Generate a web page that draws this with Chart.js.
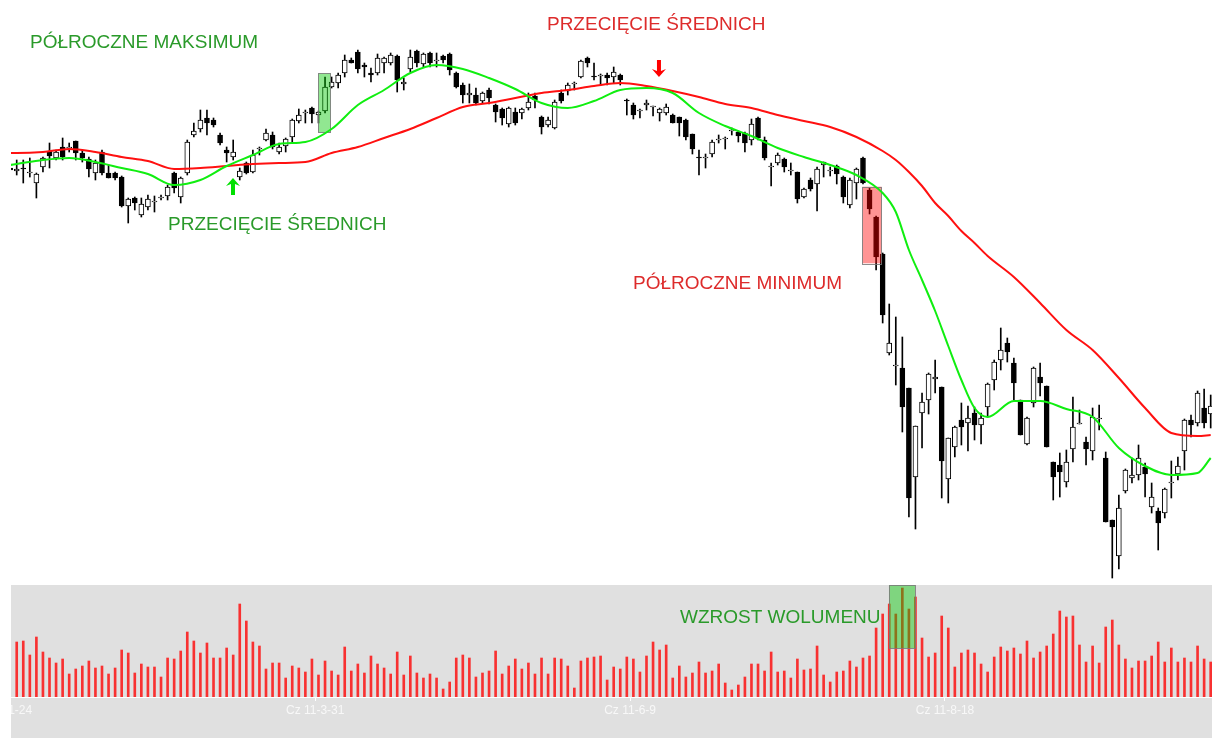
<!DOCTYPE html>
<html><head><meta charset="utf-8">
<style>
html,body{margin:0;padding:0;background:#fff;width:1212px;height:738px;overflow:hidden}
#pwrap{position:absolute;left:0;top:0;width:1212px;height:585px}
#vwrap{position:absolute;left:11px;top:585px;width:1201px;height:153px;background:#e0e0e0}
</style>
<script src="https://cdn.jsdelivr.net/npm/chart.js@4.4.0/dist/chart.umd.min.js"></script>
</head><body>
<div id="pwrap"><canvas id="price"></canvas></div>
<div id="vwrap"><canvas id="vol"></canvas></div>
<script>
// candle index of the first entry (index -1 is clipped at the left edge)
const firstIndex = -1;
const openP = [2717,2714,2717,2712,2702,2718,2734,2727,2738,2737,2744,2732,2726,2712,2733,2712,2712,2708,2679,2687,2670,2678,2683,2687,2689,2712,2688,2712,2750,2756,2767,2765,2750,2735,2728,2708,2722,2713,2736,2745,2750,2733,2739,2748,2764,2772,2777,2770,2774,2798,2802,2812,2825,2833,2820,2812,2812,2822,2822,2829,2801,2816,2834,2821,2832,2824,2829,2831,2812,2800,2790,2790,2784,2795,2780,2776,2761,2773,2772,2777,2789,2768,2760,2757,2792,2794,2801,2808,2827,2809,2809,2810,2808,2810,2785,2780,2774,2780,2778,2772,2772,2770,2768,2765,2751,2728,2727,2731,2745,2746,2754,2753,2752,2745,2767,2745,2718,2722,2726,2714,2713,2688,2705,2701,2720,2714,2719,2708,2680,2702,2727,2695,2668,2631,2532,2519,2517,2497,2408,2472,2485,2506,2498,2406,2438,2465,2462,2472,2460,2478,2505,2525,2542,2522,2485,2441,2482,2508,2499,2423,2420,2403,2436,2461,2443,2434,2466,2427,2365,2329,2394,2407,2410,2418,2378,2374,2372,2402,2411,2434,2465,2462,2477,2471];
const highP = [2733,2725,2725,2727,2712,2728,2742,2735,2747,2742,2744,2735,2728,2725,2735,2720,2713,2709,2687,2688,2687,2690,2689,2690,2700,2713,2708,2745,2762,2775,2775,2767,2752,2738,2745,2717,2723,2735,2738,2756,2753,2742,2747,2766,2776,2775,2778,2774,2808,2808,2812,2830,2827,2835,2822,2817,2831,2828,2832,2830,2807,2835,2835,2832,2833,2832,2830,2832,2813,2802,2801,2797,2793,2797,2781,2777,2778,2777,2777,2792,2792,2769,2768,2785,2795,2802,2803,2825,2828,2822,2811,2812,2818,2811,2786,2782,2776,2785,2779,2777,2781,2771,2768,2766,2751,2735,2731,2745,2750,2748,2757,2754,2753,2766,2768,2748,2722,2732,2727,2722,2713,2697,2707,2718,2723,2718,2720,2709,2707,2717,2728,2697,2669,2632,2581,2568,2548,2497,2459,2492,2512,2525,2498,2447,2459,2482,2479,2478,2472,2502,2525,2557,2547,2527,2485,2468,2518,2522,2499,2423,2432,2435,2488,2475,2448,2477,2480,2433,2365,2390,2416,2427,2440,2422,2402,2377,2397,2424,2428,2466,2470,2494,2496,2490];
const lowP = [2708,2710,2702,2708,2687,2713,2717,2725,2725,2733,2725,2723,2708,2705,2710,2707,2705,2678,2662,2675,2668,2675,2673,2685,2685,2692,2682,2710,2748,2753,2750,2758,2740,2723,2725,2705,2711,2712,2730,2744,2736,2731,2733,2743,2762,2762,2762,2762,2772,2797,2797,2808,2822,2812,2808,2803,2810,2812,2820,2793,2795,2813,2818,2818,2818,2818,2822,2810,2797,2782,2782,2780,2782,2781,2763,2760,2758,2760,2766,2775,2777,2751,2758,2756,2782,2790,2795,2807,2818,2805,2800,2800,2802,2800,2770,2766,2767,2775,2769,2764,2770,2762,2749,2745,2731,2710,2717,2728,2742,2736,2750,2743,2733,2740,2745,2725,2699,2720,2713,2710,2682,2687,2694,2674,2708,2709,2701,2682,2677,2686,2701,2671,2615,2562,2530,2500,2453,2368,2356,2437,2471,2492,2387,2382,2428,2440,2434,2445,2441,2468,2495,2515,2523,2485,2450,2440,2478,2489,2438,2385,2388,2398,2423,2461,2420,2425,2455,2363,2307,2316,2392,2402,2405,2388,2372,2335,2367,2387,2405,2415,2448,2459,2457,2457];
const closeP = [2715,2716,2716,2713,2711,2727,2729,2733,2728,2738,2732,2727,2716,2722,2712,2707,2707,2679,2686,2682,2681,2686,2684,2688,2698,2697,2707,2743,2754,2765,2762,2760,2742,2732,2733,2714,2712,2730,2737,2752,2738,2738,2746,2765,2770,2773,2771,2773,2798,2803,2810,2825,2822,2816,2818,2810,2827,2827,2830,2805,2803,2828,2822,2831,2822,2825,2825,2815,2798,2790,2792,2782,2792,2787,2773,2767,2777,2762,2776,2783,2785,2758,2765,2783,2784,2800,2802,2824,2822,2808,2810,2807,2813,2805,2784,2770,2775,2782,2779,2776,2778,2762,2762,2748,2736,2727,2728,2743,2746,2747,2755,2749,2742,2761,2747,2727,2719,2730,2718,2715,2686,2696,2696,2716,2723,2715,2711,2688,2705,2716,2702,2676,2628,2570,2542,2520,2478,2387,2459,2483,2511,2508,2424,2447,2458,2458,2467,2460,2467,2501,2523,2535,2533,2502,2450,2467,2517,2502,2438,2408,2413,2423,2458,2462,2436,2468,2467,2363,2358,2377,2415,2410,2427,2411,2388,2362,2396,2403,2419,2465,2460,2492,2462,2479];
// volume, candles 0..182
const volume = [55,56,42,60,45,39,34,38,23,28,31,36,29,31,23,29,47,44,24,33,30,30,20,39,38,46,65,56,44,54,39,39,49,42,93,76,55,51,28,34,34,19,31,29,25,38,22,36,26,22,50,26,33,24,41,33,29,23,45,22,41,24,19,23,19,8,15,39,42,39,20,24,26,46,23,31,38,28,34,23,39,23,39,38,31,9,36,39,40,41,17,30,28,40,38,25,41,55,47,52,19,31,20,24,35,24,26,33,14,7,12,20,33,33,26,45,25,26,19,38,27,28,51,22,15,25,26,36,30,39,41,69,83,93,83,109,88,100,59,40,44,81,69,30,44,47,44,33,25,40,50,46,49,43,56,39,45,51,63,86,80,81,52,35,51,34,70,77,52,38,29,36,36,41,55,35,49,35,39,35,51,38,35];
// moving averages at these candle indices
const maIdx  = [-1,0,4,8,12,16,20,24,28,32,36,40,44,48,52,56,60,64,68,72,76,80,84,88,92,96,100,104,108,112,116,120,124,128,132,134,136,138,140,142,144,146,148,152,156,160,164,168,172,176,180,182];
const maFast = [2720,2721,2725,2727,2723,2717,2711,2700,2705,2719,2730,2741,2743,2756,2780,2795,2812,2820,2816,2807,2796,2782,2777,2784,2795,2797,2792,2772,2759,2749,2737,2728,2720,2710,2692,2673,2635,2605,2574,2539,2505,2477,2468,2484,2484,2476,2468,2437,2419,2410,2412,2427];
const maSlow = [2732,2732,2733,2736,2733,2728,2724,2716,2717,2719,2721,2722,2723,2732,2738,2747,2756,2767,2778,2782,2787,2792,2795,2799,2802,2799,2794,2788,2781,2777,2770,2764,2758,2748,2734,2725,2713,2699,2682,2669,2654,2642,2629,2608,2582,2555,2535,2507,2477,2452,2449,2450];
const tickIdx = [-2.1, 45.5, 93.5, 141.5];
const tickLabels = ['Pn 11-1-24', 'Cz 11-3-31', 'Cz 11-6-9', 'Cz 11-8-18'];

const X_MIN = -0.87, X_MAX = 182.2;
const FONT = "Arial, 'Liberation Sans', sans-serif";
const GREEN_TXT = '#2a9a2a', RED_TXT = '#dd2b2b';

const idx = openP.map((_, k) => k + firstIndex);
const wickData = idx.map((x, k) => ({x, y: [lowP[k], highP[k]]}));
const bodyData = idx.map((x, k) => ({x, y: [openP[k], closeP[k]]}));
const bodyFill = idx.map((x, k) => closeP[k] >= openP[k] ? '#ffffff' : '#000000');

function arrow(ctx, x, tipY, tailY, color) {
  const dir = tailY > tipY ? 1 : -1;
  const head = 8, hw = 7, sw = 2;
  ctx.save();
  ctx.fillStyle = color;
  ctx.beginPath();
  ctx.moveTo(x, tipY);
  ctx.lineTo(x + hw, tipY + dir * head);
  ctx.lineTo(x + sw, tipY + dir * (head - 2));
  ctx.lineTo(x + sw, tailY);
  ctx.lineTo(x - sw, tailY);
  ctx.lineTo(x - sw, tipY + dir * (head - 2));
  ctx.lineTo(x - hw, tipY + dir * head);
  ctx.closePath();
  ctx.fill();
  ctx.restore();
}
function box(ctx, xs, ys, x0, x1, y0, y1, fill) {
  const L = xs.getPixelForValue(x0), R = xs.getPixelForValue(x1);
  const T = ys.getPixelForValue(y0), B = ys.getPixelForValue(y1);
  ctx.save();
  ctx.fillStyle = fill;
  ctx.fillRect(L, T, R - L, B - T);
  ctx.strokeStyle = 'rgba(120,120,120,0.85)';
  ctx.lineWidth = 1;
  ctx.strokeRect(Math.round(L) + 0.5, Math.round(T) + 0.5, Math.round(R - L), Math.round(B - T));
  ctx.restore();
}
function label(ctx, xs, ys, xv, yv, text, color) {
  ctx.save();
  ctx.font = '19px ' + FONT;
  ctx.fillStyle = color;
  ctx.textBaseline = 'middle';
  ctx.textAlign = 'left';
  ctx.fillText(text, xs.getPixelForValue(xv), ys.getPixelForValue(yv));
  ctx.restore();
}

const priceNotes = {
  id: 'priceNotes',
  beforeDatasetDraw(chart, args) {
    if (args.index !== 2) return;
    const ctx = chart.ctx, xs = chart.scales.x, ys = chart.scales.y;
    box(ctx, xs, ys, 45.97, 47.86, 2811.7, 2752.3, 'rgba(0,200,0,0.43)');
    box(ctx, xs, ys, 128.9, 131.85, 2698.3, 2621.7, 'rgba(255,0,0,0.42)');
  },
  afterDraw(chart) {
    const ctx = chart.ctx, xs = chart.scales.x, ys = chart.scales.y;
    label(ctx, xs, ys, 2.03, 2842, 'PÓŁROCZNE MAKSIMUM', GREEN_TXT);
    label(ctx, xs, ys, 80.83, 2860, 'PRZECIĘCIE ŚREDNICH', RED_TXT);
    label(ctx, xs, ys, 23.06, 2660, 'PRZECIĘCIE ŚREDNICH', GREEN_TXT);
    label(ctx, xs, ys, 93.94, 2601, 'PÓŁROCZNE MINIMUM', RED_TXT);
    arrow(ctx, xs.getPixelForValue(32.97), ys.getPixelForValue(2707), ys.getPixelForValue(2690), '#00e000');
    arrow(ctx, xs.getPixelForValue(97.9), ys.getPixelForValue(2808), ys.getPixelForValue(2825), '#ff0000');
  }
};

new Chart(document.getElementById('price'), {
  data: {
    datasets: [
      {type: 'bar', data: wickData, backgroundColor: '#000', barThickness: 1, grouped: false, order: 4},
      {type: 'bar', data: bodyData, backgroundColor: bodyFill, borderColor: '#000', borderWidth: 1,
       borderSkipped: false, barThickness: 5, grouped: false, order: 3},
      {type: 'line', data: maIdx.map((x, k) => ({x, y: maSlow[k]})), borderColor: '#ff1010', borderWidth: 2,
       pointRadius: 0, cubicInterpolationMode: 'monotone', order: 2},
      {type: 'line', data: maIdx.map((x, k) => ({x, y: maFast[k]})), borderColor: '#10ee10', borderWidth: 2,
       pointRadius: 0, cubicInterpolationMode: 'monotone', order: 1}
    ]
  },
  options: {
    responsive: true, maintainAspectRatio: false, animation: false, devicePixelRatio: 1,
    layout: {padding: {left: 11, right: 0, top: 0, bottom: 0}},
    scales: {
      x: {type: 'linear', min: X_MIN, max: X_MAX, offset: false, display: false},
      y: {min: 2300, max: 2885, display: false}
    },
    plugins: {legend: {display: false}, tooltip: {enabled: false}}
  },
  plugins: [priceNotes]
});

const volNotes = {
  id: 'volNotes',
  afterDatasetsDraw(chart) {
    const ctx = chart.ctx, xs = chart.scales.x, ys = chart.scales.y;
    box(ctx, xs, ys, 132.96, 136.93, 112, 49, 'rgba(0,200,0,0.43)');
    label(ctx, xs, ys, 101.1, 79, 'WZROST WOLUMENU', GREEN_TXT);
  }
};

new Chart(document.getElementById('vol'), {
  type: 'bar',
  data: {datasets: [{data: volume.map((v, k) => ({x: k, y: v})), backgroundColor: 'rgba(255,0,0,0.78)', barThickness: 2}]},
  options: {
    responsive: true, maintainAspectRatio: false, animation: false, devicePixelRatio: 1,
    layout: {padding: 0},
    scales: {
      x: {
        type: 'linear', min: X_MIN, max: X_MAX, offset: false,
        afterBuildTicks: s => { s.ticks = tickIdx.map(v => ({value: v})); },
        afterFit: s => { s.height = 41; s.paddingLeft = 0; s.paddingRight = 0; },
        ticks: {autoSkip: false, maxRotation: 0, padding: 2, color: '#f8f8f8', font: {size: 12, family: FONT},
          callback: v => { const k = tickIdx.indexOf(v); return k >= 0 ? tickLabels[k] : ''; }},
        grid: {display: true, drawOnChartArea: false, drawTicks: true, tickLength: 4, color: '#ffffff', offset: false},
        border: {display: true, color: '#ffffff', width: 1}
      },
      y: {min: 0, max: 112, display: false}
    },
    plugins: {legend: {display: false}, tooltip: {enabled: false}}
  },
  plugins: [volNotes]
});
</script>
</body></html>
